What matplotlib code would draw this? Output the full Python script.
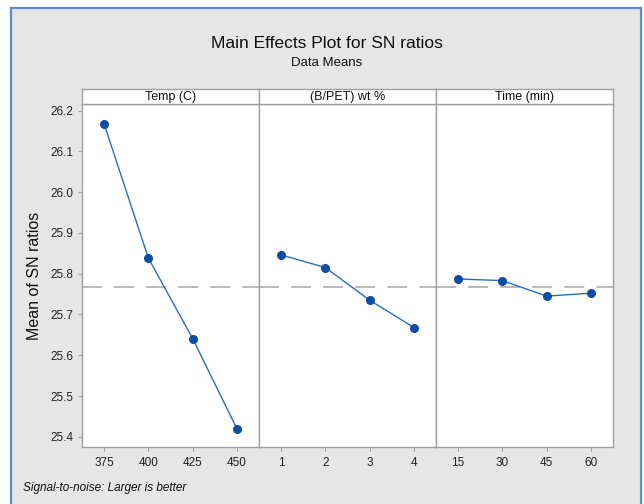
import numpy as np
import matplotlib.pyplot as plt
from matplotlib.patches import Rectangle

plt.rcParams['font.family'] = ['Liberation Sans Narrow', 'Liberation Sans', 'DejaVu Sans']

# factor levels and mean S/N ratio at each level
factors = ["Temp (C)", "(B/PET) wt %", "Time (min)"]
temp_levels = [375, 400, 425, 450]
temp_sn = [26.167, 25.838, 25.641, 25.420]
bpet_levels = [1, 2, 3, 4]
bpet_sn = [25.846, 25.815, 25.735, 25.668]
time_levels = [15, 30, 45, 60]
time_sn = [25.787, 25.783, 25.745, 25.752]

y_ticks = [25.4, 25.5, 25.6, 25.7, 25.8, 25.9, 26.0, 26.1, 26.2]

levels = [temp_levels, bpet_levels, time_levels]
means = [temp_sn, bpet_sn, time_sn]
grand_mean = np.mean(temp_sn + bpet_sn + time_sn)

W, H = 644, 504
fig = plt.figure(figsize=(W / 100, H / 100), dpi=100)
fig.patch.set_facecolor('white')

# gray backdrop with a blue border
backdrop = Rectangle((11 / W, -0.01), (641 - 11) / W, (H - 8) / H + 0.01,
                     transform=fig.transFigure, facecolor='#E6E6E6',
                     edgecolor='#5B8CC8', linewidth=1.6, zorder=-10)
fig.add_artist(backdrop)

txt = '#111111'
fig.text(327 / W, 1 - 44 / H, "Main Effects Plot for SN ratios", ha='center', va='center',
         fontsize=12.5, color=txt)
fig.text(327 / W, 1 - 63 / H, "Data Means", ha='center', va='center',
         fontsize=9.5, color=txt)

left, pw = 82, 177
top_plot, bottom_plot, strip_top = 104, 447, 89
frame_col = '#A0A0A0'

axes = []
for i in range(3):
    x0 = (left + i * pw) / W
    ax = fig.add_axes([x0, 1 - bottom_plot / H, pw / W, (bottom_plot - top_plot) / H])
    lv = levels[i]
    step = lv[1] - lv[0]
    ax.plot(lv, means[i], color='#2A6CC4', lw=1.0, marker='o', markersize=5.5,
            markerfacecolor='#0B4EA2', markeredgecolor='#0B4EA2', zorder=3)
    ax.axhline(grand_mean, color='#A6A6A6', lw=1.1, dashes=(13, 8), zorder=2)
    ax.set_xlim(lv[0] - step / 2, lv[-1] + step / 2)
    ax.set_ylim(25.375, 26.216)
    ax.set_xticks(lv)
    ax.set_xticklabels([str(v) for v in lv])
    ax.set_yticks(y_ticks)
    if i == 0:
        ax.set_yticklabels([f"{v:.1f}" for v in y_ticks])
        ax.set_ylabel("Mean of SN ratios", fontsize=11.5, color=txt, labelpad=6)
    else:
        ax.tick_params(axis='y', left=False, labelleft=False)
    ax.tick_params(axis='both', labelsize=8.5, labelcolor='#222222', length=3, width=0.8,
                   pad=3, color=frame_col)
    ax.tick_params(axis='x', pad=4)
    for sp in ax.spines.values():
        sp.set_color(frame_col)
        sp.set_linewidth(1.0)
    ax.set_facecolor('white')
    axes.append(ax)

    # strip header with the factor name
    sax = fig.add_axes([x0, 1 - top_plot / H, pw / W, (top_plot - strip_top) / H])
    sax.set_xticks([])
    sax.set_yticks([])
    sax.set_facecolor('white')
    for sp in sax.spines.values():
        sp.set_color(frame_col)
        sp.set_linewidth(1.0)
    sax.text(0.5, 0.45, factors[i], ha='center', va='center', fontsize=9,
             color=txt, transform=sax.transAxes)

fig.text(23 / W, 1 - 488 / H, "Signal-to-noise: Larger is better", ha='left', va='center',
         fontsize=8.5, style='italic', color=txt)

fig.savefig("out.png", dpi=100, facecolor=fig.get_facecolor())
